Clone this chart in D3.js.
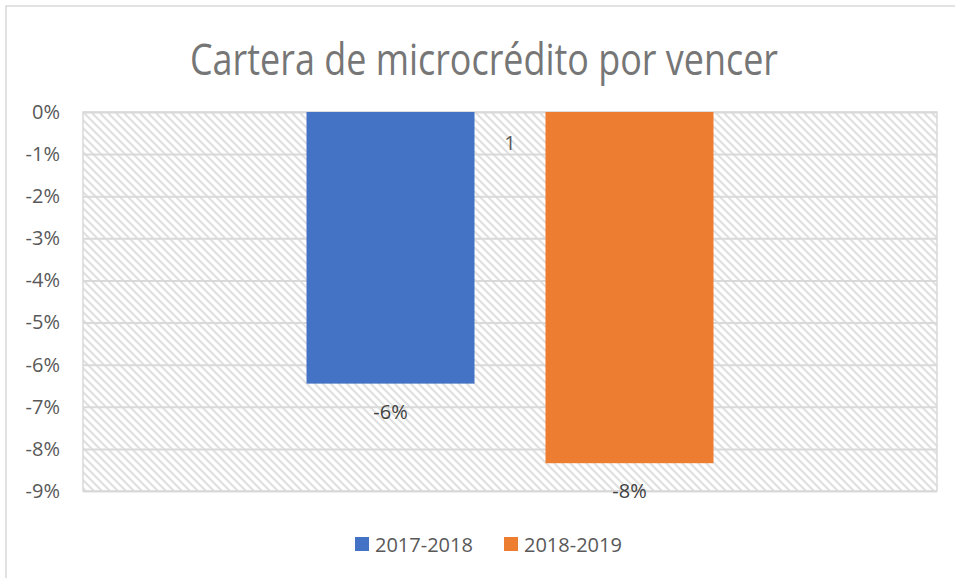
<!DOCTYPE html>
<html>
<head>
<meta charset="utf-8">
<script src="https://cdn.jsdelivr.net/npm/d3@7"></script>
<style>
  body { margin: 0; background: #fff; }
  svg text { font-family: "Open Sans", "Liberation Sans", sans-serif; }
</style>
</head>
<body>
<svg width="955" height="578"></svg>
<script>
var categories = ["1"];
var seriesNames = ["2017-2018", "2018-2019"];
var seriesValues = [-0.0645, -0.0834];
var seriesColors = ["#4472C4", "#ED7D31"];
var dataLabels = ["-6%", "-8%"];
var tickValues = [0, -0.01, -0.02, -0.03, -0.04, -0.05, -0.06, -0.07, -0.08, -0.09];

var svg = d3.select("svg");
var margin = {left: 83, top: 112, right: 18, bottom: 87};
var width = 955 - margin.left - margin.right;
var height = 578 - margin.top - margin.bottom;

// hatched plot background
var defs = svg.append("defs");
defs.append("pattern")
 .attr("id", "hatch")
 .attr("patternUnits", "userSpaceOnUse")
 .attr("width", 8)
 .attr("height", 8)
 .append("path")
 .attr("d", "M0,0 L8,8 M-2,6 L2,10 M6,-2 L10,2")
 .attr("stroke", "#e0e0e0")
 .attr("stroke-width", 2.2);

// chart border (top and left only visible)
svg.append("path")
 .attr("d", "M6,960 L6,6 L960,6")
 .attr("fill", "none")
 .attr("stroke", "#d9d9d9")
 .attr("stroke-width", 1.5);

svg.append("text")
 .attr("x", 484)
 .attr("y", 75)
 .attr("text-anchor", "middle")
 .attr("font-size", "44px")
 .attr("fill", "#767676")
 .attr("textLength", 588)
 .attr("lengthAdjust", "spacingAndGlyphs")
 .text("Cartera de microcrédito por vencer");

var g = svg.append("g")
 .attr("transform", "translate(" + margin.left + "," + margin.top + ")");

var y = d3.scaleLinear().domain([-0.09, 0]).range([height, 0]);
var x0 = d3.scaleBand().domain(categories).range([0, width]).padding(0.3545);
var x1 = d3.scaleBand().domain(seriesNames).range([0, x0.bandwidth()]).paddingInner(0.297);

g.append("rect")
 .attr("width", width)
 .attr("height", height)
 .attr("fill", "url(#hatch)");

// gridlines
g.append("g")
 .call(d3.axisLeft(y).tickValues(tickValues).tickSize(-width).tickFormat(""))
 .call(function(s) {
   s.select(".domain").remove();
   s.selectAll("line").attr("stroke", "#d9d9d9").attr("stroke-width", 2);
 });

g.append("rect")
 .attr("width", width)
 .attr("height", height)
 .attr("fill", "none")
 .attr("stroke", "#d9d9d9")
 .attr("stroke-width", 1.5);

// y axis labels
g.append("g")
 .call(d3.axisLeft(y).tickValues(tickValues).tickSize(0).tickPadding(23)
   .tickFormat(function(d) { return Math.round(d * 100) + "%"; }))
 .call(function(s) {
   s.select(".domain").remove();
   s.selectAll("text").attr("font-size", "20px").attr("fill", "#595959")
     .attr("font-family", "'Open Sans', sans-serif");
 });

// bars
var bars = seriesNames.map(function(name, i) {
  return {cat: categories[0], name: name, value: seriesValues[i], color: seriesColors[i], label: dataLabels[i]};
});

g.selectAll(".bar")
 .data(bars)
 .enter().append("rect")
 .attr("class", "bar")
 .attr("x", function(d) { return x0(d.cat) + x1(d.name); })
 .attr("y", y(0))
 .attr("width", x1.bandwidth())
 .attr("height", function(d) { return y(d.value) - y(0); })
 .attr("fill", function(d) { return d.color; });

g.selectAll(".val")
 .data(bars)
 .enter().append("text")
 .attr("class", "val")
 .attr("x", function(d) { return x0(d.cat) + x1(d.name) + x1.bandwidth() / 2; })
 .attr("y", function(d) { return y(d.value) + 35; })
 .attr("text-anchor", "middle")
 .attr("font-size", "20px")
 .attr("fill", "#404040")
 .text(function(d) { return d.label; });

// category label
g.append("text")
 .attr("x", x0(categories[0]) + x0.bandwidth() / 2)
 .attr("y", y(0) + 38)
 .attr("text-anchor", "middle")
 .attr("font-size", "20px")
 .attr("fill", "#595959")
 .text(categories[0]);

// legend
var legendX = [355, 504];
var legend = svg.selectAll(".legend")
 .data(seriesNames)
 .enter().append("g")
 .attr("class", "legend")
 .attr("transform", function(d, i) { return "translate(" + legendX[i] + ",537)"; });

legend.append("rect")
 .attr("width", 14)
 .attr("height", 14)
 .attr("fill", function(d, i) { return seriesColors[i]; });

legend.append("text")
 .attr("x", 20)
 .attr("y", 15)
 .attr("font-size", "20px")
 .attr("fill", "#595959")
 .text(function(d) { return d; });
</script>
</body>
</html>
